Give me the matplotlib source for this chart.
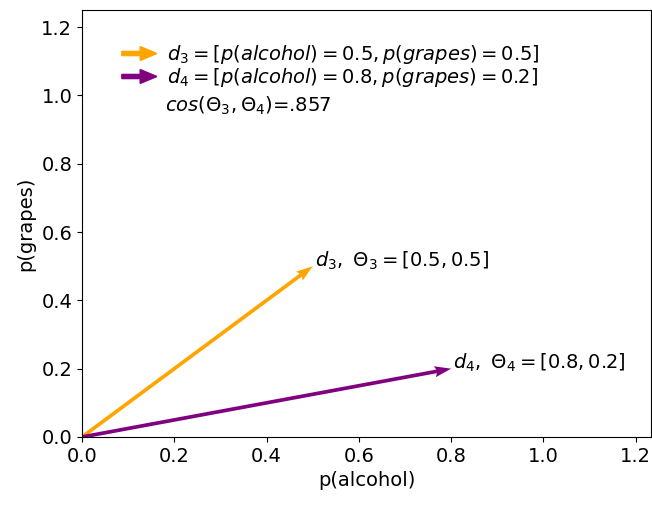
import matplotlib
matplotlib.use("Agg")
import matplotlib.pyplot as plt
from matplotlib.legend_handler import HandlerPatch
from matplotlib.patches import FancyArrow

# data
names = ["d_3", "d_4"]
thetas = ["\\Theta_3", "\\Theta_4"]
p_alcohol = [0.5, 0.8]
p_grapes = [0.5, 0.2]
colors = ["orange", "purple"]
cos_sim = ".857"

FS = 14

fig = plt.figure(figsize=(6.52, 5.07), dpi=100)
ax = fig.add_axes([82 / 652, 70 / 507, 569 / 652, 427 / 507])

ax.quiver([0, 0], [0, 0], p_alcohol, p_grapes, color=colors,
          angles="xy", scale_units="xy", scale=1, width=0.0065,
          headwidth=3, headlength=4.5, headaxislength=4)

for n, t, x, y in zip(names, thetas, p_alcohol, p_grapes):
    ax.text(x + 0.005, y, f"${n},\\ {t} = [{x}, {y}]$", fontsize=FS)


def make_arrow(legend, orig_handle, xdescent, ydescent, width, height, fontsize):
    return FancyArrow(0, height / 2, width, 0, width=3, head_width=10,
                      head_length=12, length_includes_head=True, linewidth=0)


handles = [FancyArrow(0, 0, 1, 0, color=c) for c in colors]
labels = [f"${n} = [p(alcohol) = {x}, p(grapes) = {y}]$"
          for n, x, y in zip(names, p_alcohol, p_grapes)]
ax.legend(handles, labels, loc="upper left", bbox_to_anchor=(0.07, 0.922),
          frameon=False, fontsize=FS, handlelength=1.8, labelspacing=0.0,
          handletextpad=0.5, borderaxespad=0, borderpad=0,
          handler_map={FancyArrow: HandlerPatch(patch_func=make_arrow)})

ax.text(0.18, 0.952, f"$cos({thetas[0]}, {thetas[1]})$={cos_sim}", fontsize=FS)

ax.set_xlim(0, 1.233)
ax.set_ylim(0, 1.25)
ax.tick_params(labelsize=FS)
ax.set_xlabel("p(alcohol)", fontsize=FS)
ax.set_ylabel("p(grapes)", fontsize=FS)

fig.savefig("out.png", dpi=100)
